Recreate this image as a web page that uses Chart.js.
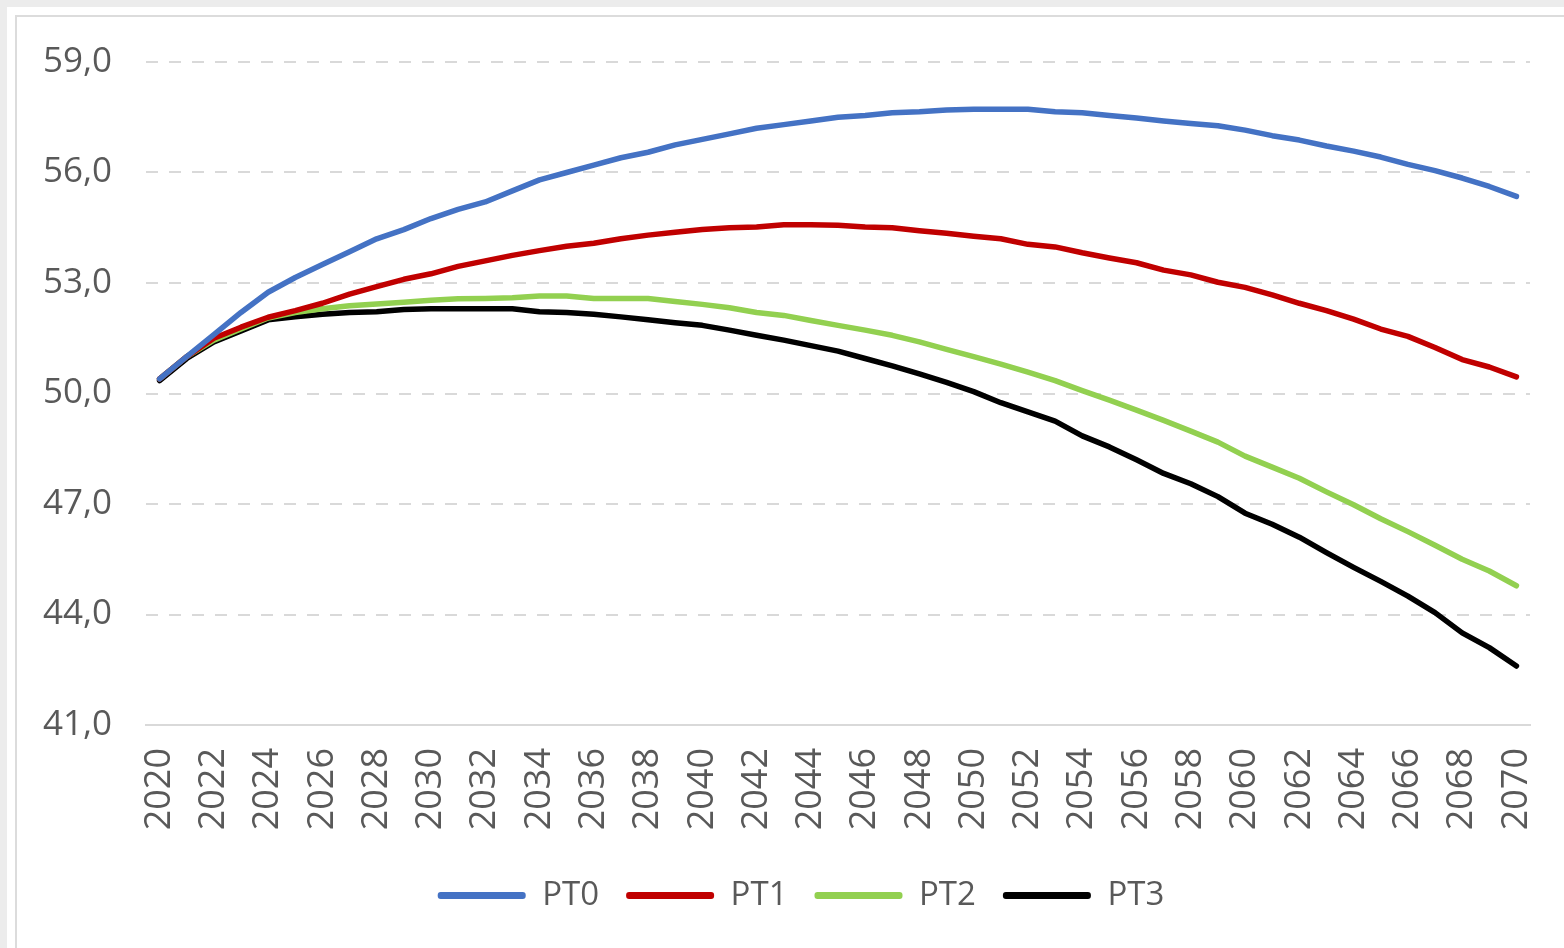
<!DOCTYPE html>
<html>
<head>
<meta charset="utf-8">
<script src="https://cdn.jsdelivr.net/npm/chart.js@4"></script>
<style>
  html, body { margin: 0; padding: 0; width: 1564px; height: 948px; overflow: hidden; background: #ececec; }
  .sheet { position: absolute; left: 7px; top: 7px; right: 0; bottom: 0; background: #fff; }
  .frame { position: absolute; left: 15px; top: 15px; right: 0; bottom: 0; border-left: 2px solid #dcdcdc; border-top: 2px solid #dcdcdc; background: #fff; }
  #wrap { position: absolute; left: 0; top: 0; width: 1564px; height: 948px; }
</style>
</head>
<body>
<div class="sheet"></div>
<div class="frame"></div>
<div id="wrap"><canvas id="chart" width="1564" height="948"></canvas></div>
<script>
const years = [];
for (let y = 2020; y <= 2070; y++) years.push(String(y));

const pt0 = [50.4, 51.0, 51.6, 52.2, 52.75, 53.15, 53.5, 53.85, 54.2, 54.45,
    54.75, 55.0, 55.2, 55.5, 55.8, 56.0, 56.2, 56.4, 56.55, 56.75,
    56.9, 57.05, 57.2, 57.3, 57.4, 57.5, 57.55, 57.62, 57.65, 57.7,
    57.72, 57.72, 57.72, 57.65, 57.62, 57.55, 57.48, 57.4, 57.33, 57.27,
    57.15, 57.0, 56.88, 56.72, 56.58, 56.42, 56.22, 56.05, 55.85, 55.62, 55.35];
const pt1 = [50.4, 51.0, 51.5, 51.8, 52.07, 52.25, 52.45, 52.7, 52.9, 53.1,
    53.25, 53.45, 53.6, 53.75, 53.88, 54.0, 54.08, 54.2, 54.3, 54.38,
    54.45, 54.5, 54.52, 54.58, 54.58, 54.57, 54.52, 54.5, 54.42, 54.35,
    54.27, 54.2, 54.05, 53.98, 53.82, 53.68, 53.55, 53.35, 53.22, 53.02,
    52.88, 52.68, 52.45, 52.25, 52.02, 51.75, 51.55, 51.25, 50.92, 50.72, 50.45];
const pt2 = [50.4, 51.0, 51.45, 51.75, 52.05, 52.2, 52.3, 52.38, 52.43, 52.48,
    52.53, 52.57, 52.58, 52.6, 52.65, 52.65, 52.58, 52.58, 52.58, 52.5,
    52.42, 52.33, 52.2, 52.12, 51.98, 51.85, 51.72, 51.58, 51.4, 51.2,
    51.0, 50.8, 50.58, 50.35, 50.08, 49.82, 49.55, 49.27, 48.98, 48.68,
    48.3, 48.0, 47.7, 47.33, 46.98, 46.6, 46.25, 45.88, 45.5, 45.18, 44.78];
const pt3 = [50.35, 50.95, 51.4, 51.7, 52.0, 52.08, 52.15, 52.2, 52.22, 52.28,
    52.3, 52.3, 52.3, 52.3, 52.22, 52.2, 52.15, 52.08, 52.0, 51.92,
    51.85, 51.72, 51.58, 51.45, 51.3, 51.15, 50.95, 50.75, 50.53, 50.3,
    50.05, 49.75, 49.5, 49.25, 48.85, 48.55, 48.2, 47.83, 47.55, 47.2,
    46.75, 46.45, 46.1, 45.68, 45.28, 44.9, 44.5, 44.05, 43.5, 43.1, 42.6];

const seriesNames = ['PT0', 'PT1', 'PT2', 'PT3'];
const seriesColors = ['#4472C4', '#C00000', '#92D050', '#000000'];
const yMin = 41, yMax = 59, yStep = 3;

const txt = '#595959';
const fontFamily = '"Open Sans", sans-serif';

const datasets = [pt0, pt1, pt2, pt3].map((d, i) => ({
    label: seriesNames[i],
    data: d,
    borderColor: seriesColors[i],
    backgroundColor: seriesColors[i],
    borderWidth: 5.5,
    pointRadius: 0,
    tension: 0,
    borderCapStyle: 'round',
    borderJoinStyle: 'round',
    fill: false
}));

// legend in the reference sits a bit right of the canvas centre
const legendShift = {
    id: 'legendShift',
    afterLayout(chart) {
        chart.legend.left += 36;
        chart.legend.right += 36;
    }
};

Chart.defaults.font.family = fontFamily;

new Chart(document.getElementById('chart'), {
    type: 'line',
    data: { labels: years, datasets: datasets },
    plugins: [legendShift],
    options: {
        responsive: false,
        animation: false,
        layout: { padding: { top: 62, right: 34, left: 0, bottom: 26 } },
        plugins: {
            tooltip: { enabled: false },
            legend: {
                position: 'bottom',
                labels: {
                    color: txt,
                    font: { size: 33 },
                    boxWidth: 88,
                    boxHeight: 7,
                    padding: 27,
                    useBorderRadius: true,
                    borderRadius: 3,
                    generateLabels: (chart) => Chart.defaults.plugins.legend.labels.generateLabels(chart)
                        .map(it => Object.assign(it, { lineWidth: 0, fillStyle: it.strokeStyle }))
                }
            }
        },
        scales: {
            x: {
                offset: true,
                grid: { display: false, drawTicks: false },
                border: { display: true, color: '#D9D9D9', width: 2 },
                ticks: {
                    color: txt,
                    font: { size: 36 },
                    autoSkip: false,
                    maxRotation: 90,
                    minRotation: 90,
                    padding: 23,
                    callback: function (v, i) { return i % 2 === 0 ? this.getLabelForValue(v) : ''; }
                },
                afterFit: (s) => { s.height = 127; s.paddingLeft = 0; s.paddingRight = 0; }
            },
            y: {
                min: yMin,
                max: yMax,
                grid: {
                    color: '#D9D9D9',
                    lineWidth: 2,
                    drawTicks: false
                },
                border: {
                    display: false,
                    dash: (ctx) => (ctx.tick && ctx.tick.value === yMin ? [] : [12, 11])
                },
                ticks: {
                    color: txt,
                    font: { size: 35 },
                    stepSize: yStep,
                    padding: 34,
                    callback: (v) => v.toFixed(1).replace('.', ',')
                },
                afterFit: (s) => { s.width = 146; }
            }
        }
    }
});
</script>
</body>
</html>
